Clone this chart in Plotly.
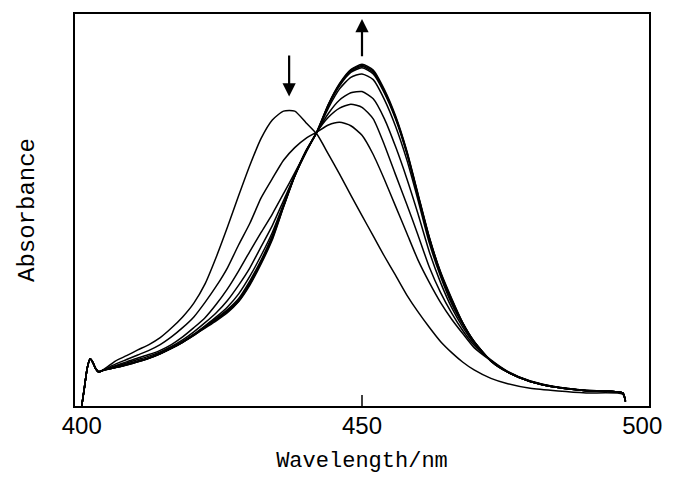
import plotly.graph_objects as go

# Wavelength grid (nm)
wavelength = [400, 400.5, 401, 401.5, 402, 402.5, 403, 404, 406, 408, 410, 412, 414, 416, 418,
              420, 422, 424, 426, 428, 430, 432, 434, 436, 438, 440, 442, 444, 446, 448, 450,
              452, 454, 456, 458, 460, 462, 464, 466, 468, 470, 473, 476, 480, 485, 490, 496.5, 497]

# Absorbance spectra (arbitrary units)
spec0 = [0, 0.05, 0.10, 0.123, 0.113, 0.097, 0.089,
         0.096, 0.117, 0.131, 0.146, 0.160, 0.178, 0.203, 0.232, 0.268, 0.318, 0.388, 0.466, 0.548,
         0.627, 0.697, 0.745, 0.768, 0.768, 0.738, 0.707, 0.656, 0.604, 0.549, 0.496, 0.443, 0.390,
         0.340, 0.289, 0.245, 0.205, 0.168, 0.139, 0.114, 0.094, 0.072, 0.058, 0.046, 0.039, 0.034,
         0.031, 0.012]
spec1 = [0, 0.05, 0.10, 0.123, 0.113, 0.097, 0.089,
         0.095, 0.109, 0.121, 0.133, 0.145, 0.160, 0.180, 0.204, 0.232, 0.270, 0.312, 0.360, 0.420,
         0.476, 0.542, 0.592, 0.640, 0.673, 0.697, 0.714, 0.732, 0.739, 0.730, 0.705, 0.655, 0.590,
         0.520, 0.450, 0.380, 0.322, 0.270, 0.226, 0.188, 0.152, 0.118, 0.089, 0.065, 0.049, 0.041,
         0.034, 0.012]
spec2 = [0, 0.05, 0.10, 0.123, 0.113, 0.097, 0.089,
         0.094, 0.105, 0.115, 0.125, 0.134, 0.145, 0.160, 0.180, 0.204, 0.230, 0.265, 0.305, 0.352,
         0.403, 0.452, 0.500, 0.553, 0.607, 0.662, 0.714, 0.752, 0.776, 0.786, 0.778, 0.748, 0.680,
         0.602, 0.525, 0.445, 0.362, 0.296, 0.242, 0.196, 0.158, 0.120, 0.090, 0.065, 0.049, 0.041,
         0.034, 0.012]
spec3 = [0, 0.05, 0.10, 0.123, 0.113, 0.097, 0.089,
         0.094, 0.103, 0.112, 0.121, 0.130, 0.141, 0.155, 0.172, 0.193, 0.217, 0.243, 0.275, 0.315,
         0.360, 0.415, 0.470, 0.535, 0.600, 0.660, 0.714, 0.762, 0.797, 0.816, 0.819, 0.800, 0.748,
         0.675, 0.592, 0.500, 0.402, 0.322, 0.256, 0.205, 0.163, 0.118, 0.089, 0.064, 0.048, 0.040,
         0.034, 0.012]
spec4 = [0, 0.05, 0.10, 0.123, 0.113, 0.097, 0.089,
         0.094, 0.101, 0.109, 0.117, 0.126, 0.138, 0.152, 0.168, 0.187, 0.209, 0.232, 0.258, 0.292,
         0.338, 0.392, 0.452, 0.526, 0.600, 0.662, 0.714, 0.776, 0.826, 0.856, 0.865, 0.850, 0.798,
         0.728, 0.641, 0.536, 0.425, 0.338, 0.266, 0.212, 0.166, 0.117, 0.088, 0.064, 0.048, 0.040,
         0.034, 0.012]
spec5 = [0, 0.05, 0.10, 0.123, 0.113, 0.097, 0.089,
         0.094, 0.100, 0.108, 0.116, 0.125, 0.137, 0.151, 0.167, 0.186, 0.207, 0.228, 0.251, 0.280,
         0.326, 0.380, 0.444, 0.522, 0.600, 0.664, 0.715, 0.782, 0.834, 0.869, 0.881, 0.865, 0.815,
         0.747, 0.657, 0.545, 0.435, 0.345, 0.272, 0.214, 0.167, 0.117, 0.088, 0.064, 0.048, 0.040,
         0.034, 0.012]
spec6 = [0, 0.05, 0.10, 0.123, 0.113, 0.097, 0.089,
         0.094, 0.100, 0.108, 0.116, 0.125, 0.136, 0.150, 0.166, 0.185, 0.206, 0.226, 0.248, 0.276,
         0.321, 0.376, 0.440, 0.521, 0.600, 0.665, 0.715, 0.784, 0.837, 0.872, 0.884, 0.869, 0.818,
         0.750, 0.660, 0.548, 0.438, 0.347, 0.276, 0.215, 0.168, 0.117, 0.088, 0.064, 0.048, 0.040,
         0.034, 0.012]
spec7 = [0, 0.05, 0.10, 0.123, 0.113, 0.097, 0.089,
         0.094, 0.100, 0.107, 0.115, 0.124, 0.136, 0.150, 0.166, 0.184, 0.205, 0.224, 0.246, 0.273,
         0.318, 0.373, 0.437, 0.519, 0.599, 0.663, 0.715, 0.785, 0.838, 0.875, 0.887, 0.872, 0.821,
         0.752, 0.662, 0.550, 0.439, 0.348, 0.278, 0.216, 0.168, 0.118, 0.088, 0.064, 0.048, 0.040,
         0.034, 0.012]
spec8 = [0, 0.05, 0.10, 0.123, 0.113, 0.097, 0.089,
         0.094, 0.100, 0.107, 0.115, 0.124, 0.136, 0.150, 0.166, 0.184, 0.203, 0.222, 0.243, 0.272,
         0.315, 0.370, 0.433, 0.518, 0.598, 0.662, 0.717, 0.786, 0.840, 0.876, 0.890, 0.875, 0.824,
         0.755, 0.664, 0.552, 0.440, 0.350, 0.280, 0.216, 0.168, 0.118, 0.088, 0.064, 0.048, 0.040,
         0.034, 0.012]

spectra = [spec0, spec1, spec2, spec3, spec4, spec5, spec6, spec7, spec8]

x_ticks = [400, 450, 500]
x_range = [398.8, 501.2]
y_range = [0, 1.021]

fig = go.Figure()
for s in spectra:
    fig.add_trace(go.Scatter(x=wavelength, y=s, mode="lines",
                             line=dict(color="black", width=1.5, shape="spline", smoothing=0.6),
                             showlegend=False, hoverinfo="skip"))

# tick mark at 450 (inside)
fig.add_shape(type="line", xref="x", yref="paper", x0=x_ticks[1], x1=x_ticks[1], y0=0, y1=0.028,
              line=dict(color="black", width=1.5))

# arrows: decreasing band (down) and growing band (up)
fig.add_annotation(x=437, y=0.806, ax=437, ay=0.917, xref="x", yref="y", axref="x", ayref="y",
                   text="", showarrow=True, arrowhead=2, arrowsize=1.2, arrowwidth=2.2, arrowcolor="black")
fig.add_annotation(x=450, y=1.008, ax=450, ay=0.907, xref="x", yref="y", axref="x", ayref="y",
                   text="", showarrow=True, arrowhead=2, arrowsize=1.2, arrowwidth=2.2, arrowcolor="black")

fig.update_layout(
    width=674, height=486,
    margin=dict(l=75, r=18, t=12, b=80),
    paper_bgcolor="white", plot_bgcolor="white",
    xaxis=dict(range=x_range, tickvals=x_ticks, ticktext=[str(t) for t in x_ticks], ticks="",
               ticklabelstandoff=-3,
               showgrid=False, zeroline=False, showline=True, mirror=True, linecolor="black",
               linewidth=1.5, tickfont=dict(family="Liberation Sans, Arial", size=24, color="black"),
               title=dict(text="Wavelength/nm", standoff=14,
                          font=dict(family="Liberation Mono, Courier New", size=22, color="black"))),
    yaxis=dict(range=y_range, showticklabels=False, ticks="", showgrid=False, zeroline=False,
               showline=True, mirror=True, linecolor="black", linewidth=1.5,
               title=dict(text="Absorbance", standoff=32,
                          font=dict(family="Liberation Mono, Courier New", size=24, color="black"))),
)

fig.write_html("out.html")
